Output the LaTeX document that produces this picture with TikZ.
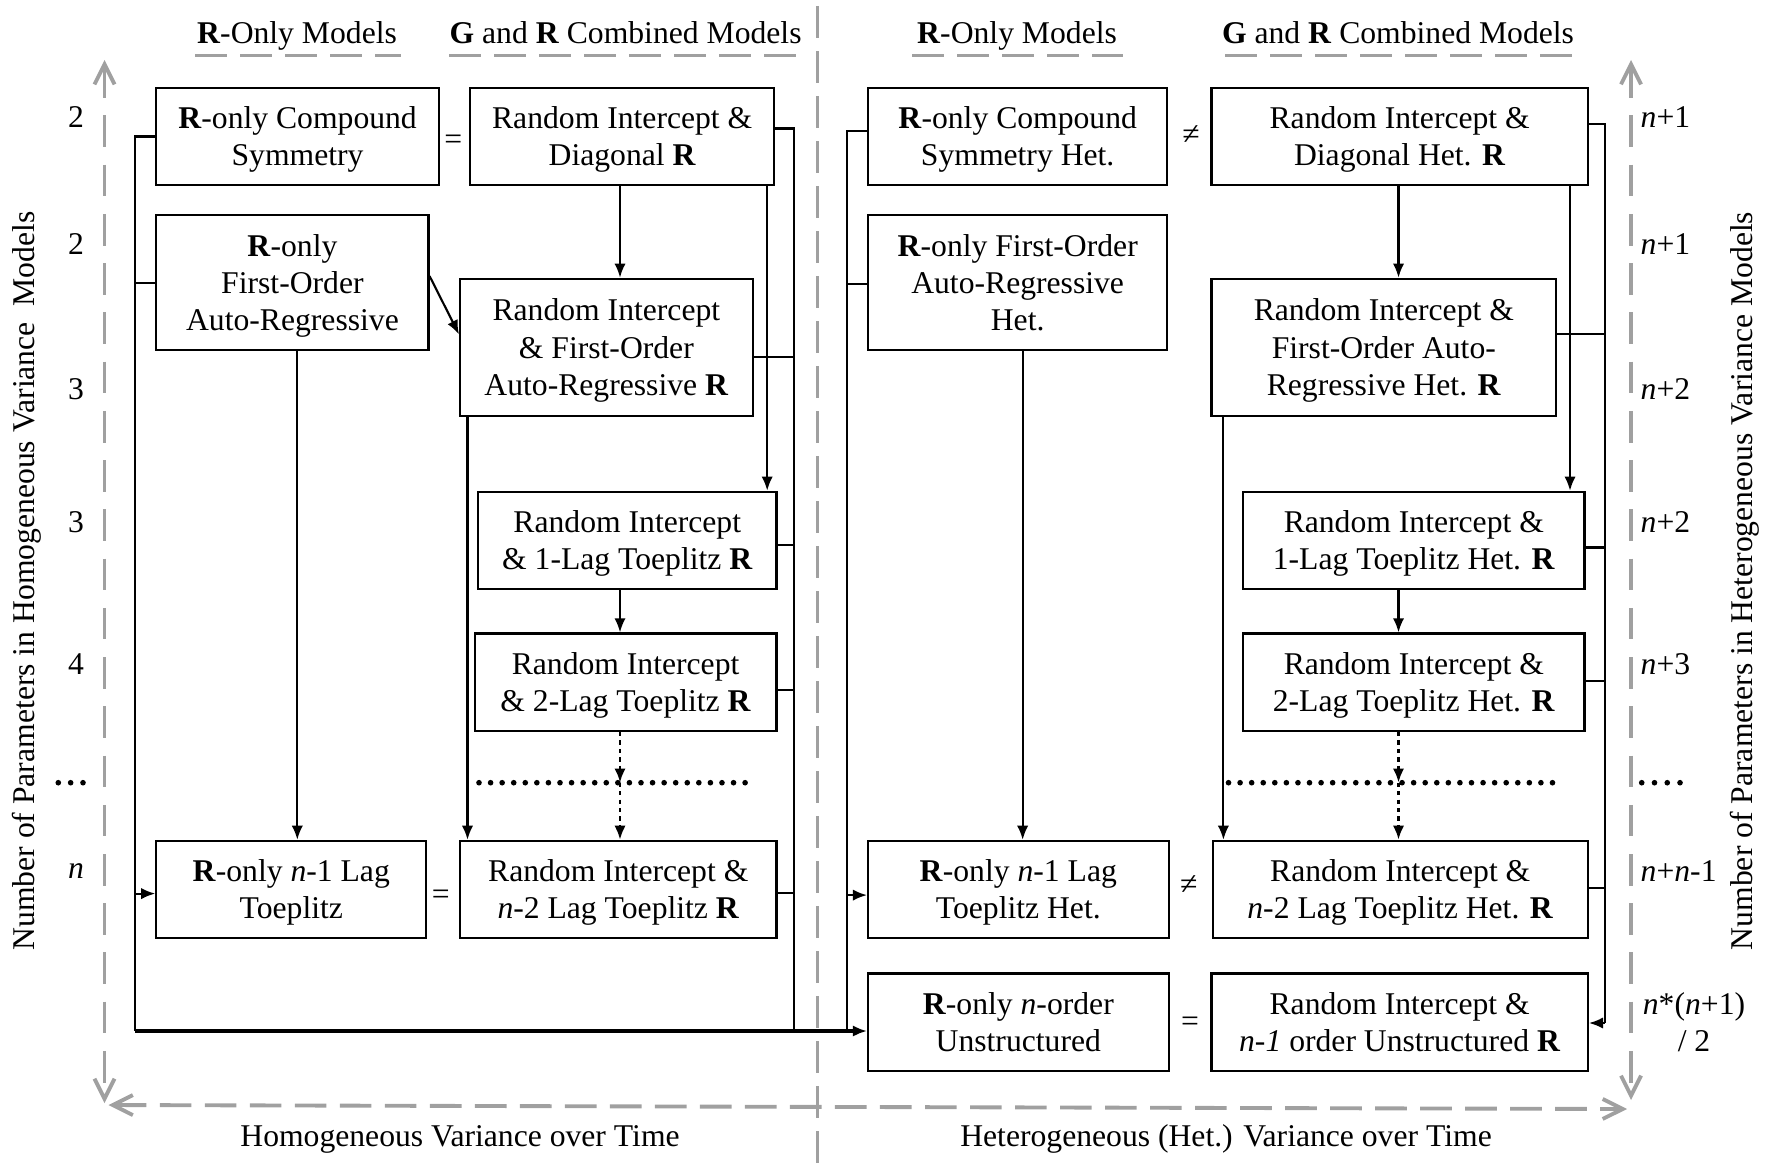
\documentclass[tikz,border=0pt]{standalone}
\usepackage{fontspec}
\setmainfont{Liberation Serif}
\usetikzlibrary{arrows.meta,calc}
\definecolor{axg}{RGB}{160,160,160}
\begin{document}
\begin{tikzpicture}[x=0.01cm,y=-0.01cm,
  font=\fontsize{9}{10.6}\selectfont,
  box/.style={draw, line width=0.6pt, align=center, inner sep=0pt, anchor=north west, text height=16.6pt, text depth=0pt},
  boxthree/.style={box, text height=27.4pt},
  conn/.style={line width=0.6pt},
  arr/.style={line width=0.6pt, -{Latex[length=4pt,width=3.2pt]}},
  darr/.style={line width=0.8pt, dash pattern=on 1.2pt off 1.2pt, -{Latex[length=4pt,width=3.2pt]}},
  dotline/.style={line width=1.6pt, line cap=round, dash pattern=on 0pt off 3.29pt},
  axis/.style={axg, line width=1.1pt, dash pattern=on 9pt off 3.8pt},
  vaxis/.style={axg, line width=1.1pt, dash pattern=on 9pt off 5pt},
  barbs/.style={{Straight Barb[length=5.7pt,width=5.7pt]}-{Straight Barb[length=5.7pt,width=5.7pt]}},
  uline/.style={axg, line width=1.1pt, dash pattern=on 9pt off 3.8pt},
  divider/.style={axg, line width=0.8pt, dash pattern=on 9.1pt off 3.7pt},
  lbl/.style={inner sep=0pt}]
\useasboundingbox (0,0) rectangle (1777,1173);

% headers
\node[lbl, anchor=base] (h1) at (297,43.5) {\textbf{R}-Only Models};
\node[lbl, anchor=base] (h2) at (625.6,43.5) {\textbf{G} and \textbf{R} Combined Models};
\node[lbl, anchor=base] (h3) at (1017,43.5) {\textbf{R}-Only Models};
\node[lbl, anchor=base] (h4) at (1398,43.5) {\textbf{G} and \textbf{R} Combined Models};
\draw[uline] (195,55.5) -- (401,55.5);
\draw[uline] (449,55.5) -- (802,55.5);
\draw[uline] (912,55.5) -- (1123,55.5);
\draw[uline] (1225,55.5) -- (1579,55.5);

% divider and axes
\draw[divider] (817.5,6) -- (817.5,1173);
\draw[vaxis, barbs] (104.5,60) -- (104.5,1103);
\draw[vaxis, barbs] (1631,60) -- (1631,1100);
\draw[axis, barbs] (108.5,1105) -- (1627,1109);

% axis labels
\node[lbl, rotate=90] (yl) at (27,581) {Number of Parameters in Homogeneous Variance~~Models};
\node[lbl, rotate=90] (yr) at (1745,581) {Number of Parameters in Heterogeneous Variance Models};
\node[lbl, anchor=base] (xl) at (460,1146) {Homogeneous Variance over Time};
\node[lbl, anchor=base] (xr) at (1226,1146) {Heterogeneous (Het.) Variance over Time};

% left numbers
\node[lbl] (n1) at (76,116.7) {2};
\node[lbl] (n2) at (76,243.7) {2};
\node[lbl] (n3) at (76,388.7) {3};
\node[lbl] (n4) at (76,522.5) {3};
\node[lbl] (n5) at (76,664.1) {4};
\draw[dotline, dash pattern=on 0pt off 3.51pt] (58.3,782.7) -- (83,782.7);
\node[lbl] (n7) at (76,871.5) {\textit{n}};
% right numbers
\node[lbl, anchor=west] (m1) at (1640,116.7) {\textit{n}+1};
\node[lbl, anchor=west] (m2) at (1640,243.7) {\textit{n}+1};
\node[lbl, anchor=west] (m3) at (1640,388.7) {\textit{n}+2};
\node[lbl, anchor=west] (m4) at (1640,522.5) {\textit{n}+2};
\node[lbl, anchor=west] (m5) at (1640,664.1) {\textit{n}+3};
\draw[dotline, dash pattern=on 0pt off 3.63pt] (1641.7,782.7) -- (1680,782.7);
\node[lbl, anchor=west] (m7) at (1640,871.5) {\textit{n}+\textit{n}-1};
\node[lbl, align=center] (m8) at (1694,1022) {\textit{n}*(\textit{n}+1)\\/ 2};

% left panel boxes
\node[box, minimum width=2.822cm, minimum height=0.963cm] (B1) at (155.3,87.3) {\textbf{R}-only Compound\\Symmetry};
\node[box, minimum width=3.037cm, minimum height=0.963cm] (B2) at (469.2,87.3) {Random Intercept \&\\Diagonal \textbf{R}};
\node[boxthree, minimum width=2.72cm, minimum height=1.349cm] (B3) at (155.3,214.2) {\textbf{R}-only\\First-Order\\Auto-Regressive};
\node[boxthree, minimum width=2.924cm, minimum height=1.371cm] (B4) at (459,277.7) {Random Intercept\\\& First-Order\\Auto-Regressive \textbf{R}};
\node[box, minimum width=2.981cm, minimum height=0.975cm] (B5) at (477.1,490.7) {Random Intercept\\\& 1-Lag Toeplitz \textbf{R}};
\node[box, minimum width=3.015cm, minimum height=0.974cm] (B6) at (473.7,632.4) {Random Intercept\\\& 2-Lag Toeplitz \textbf{R}};
\node[box, minimum width=2.697cm, minimum height=0.974cm] (B7) at (155.3,839.8) {\textbf{R}-only \textit{n}-1 Lag\\Toeplitz};
\node[box, minimum width=3.162cm, minimum height=0.974cm] (B8) at (459,839.8) {Random Intercept \&\\\textit{n}-2 Lag Toeplitz \textbf{R}};

% right panel boxes
\node[box, minimum width=2.99cm, minimum height=0.963cm] (C1) at (867,87.3) {\textbf{R}-only Compound\\Symmetry Het.};
\node[box, minimum width=3.762cm, minimum height=0.963cm] (C2) at (1210.4,87.3) {Random Intercept \&\\Diagonal Het. \textbf{R}};
\node[boxthree, minimum width=2.99cm, minimum height=1.349cm] (C3) at (867,214.2) {\textbf{R}-only First-Order\\Auto-Regressive\\Het.};
\node[boxthree, minimum width=3.445cm, minimum height=1.371cm] (C4) at (1210.4,277.7) {Random Intercept \&\\First-Order Auto-\\Regressive Het. \textbf{R}};
\node[box, minimum width=3.411cm, minimum height=0.975cm] (C5) at (1242.1,490.7) {Random Intercept \&\\1-Lag Toeplitz Het. \textbf{R}};
\node[box, minimum width=3.411cm, minimum height=0.974cm] (C6) at (1242.1,632.4) {Random Intercept \&\\2-Lag Toeplitz Het. \textbf{R}};
\node[box, minimum width=3.003cm, minimum height=0.974cm] (C7) at (867,839.8) {\textbf{R}-only \textit{n}-1 Lag\\Toeplitz Het.};
\node[box, minimum width=3.751cm, minimum height=0.974cm] (C8) at (1211.5,839.8) {Random Intercept \&\\\textit{n}-2 Lag Toeplitz Het. \textbf{R}};
\node[box, minimum width=3.003cm, minimum height=0.974cm] (C9) at (867,972.4) {\textbf{R}-only \textit{n}-order\\Unstructured};
\node[box, minimum width=3.762cm, minimum height=0.974cm] (C10) at (1210.4,972.4) {Random Intercept \&\\\textit{n-1} order Unstructured \textbf{R}};

% relation signs
\node[lbl] (e1) at (453.3,142.3) {=};
\node[lbl] (e2) at (440.9,897) {=};
\node[lbl] (e3) at (1191,134.7) {≠};
\node[lbl] (e4) at (1188.8,885) {≠};
\node[lbl] (e5) at (1190,1024) {=};

% ---- left panel connectors
\coordinate (LB) at (135,1031);
\coordinate (RB) at (794,1031);
\coordinate (colL) at (620,0);
\coordinate (DL) at (620,782.7);
\draw[conn] (B1.west) -- (B1.west -| LB) -- (LB);
\draw[arr, line width=0.9pt] (LB) -- (LB -| C9.west);
\draw[conn] (B3.west) -- (B3.west -| LB);
\draw[arr] ($(B7.west -| LB)+(0,4)$) -- ($(B7.west)+(0,4)$);
\draw[conn] ($(B2.east)+(0,-8)$) coordinate (t) -- (t -| RB) -- (RB);
\draw[conn] ($(B4.east)+(0,10)$) coordinate (t) -- (t -| RB);
\draw[conn] ($(B5.east)+(0,4.5)$) coordinate (t) -- (t -| RB);
\draw[conn] ($(B6.east)+(0,8)$) coordinate (t) -- (t -| RB);
\draw[conn] ($(B8.east)+(0,3.5)$) coordinate (t) -- (t -| RB);
\draw[arr] (B2.south -| colL) -- (B4.north -| colL);
\draw[arr] ($(B2.south east)+(-8,0)$) coordinate (t) -- (t |- B5.north);
\draw[arr] ($(B3.east)+(0,-6.7)$) -- ($(B4.west)+(0,-13)$);
\draw[arr] ($(B3.south west)+(142,0)$) coordinate (t) -- (t |- B7.north);
\draw[arr] ($(B4.south west)+(8.5,0)$) coordinate (t) -- (t |- B8.north);
\draw[arr] (B5.south -| colL) -- (B6.north -| colL);
\draw[darr] (B6.south -| DL) -- (DL);
\draw[darr] (DL) -- (B8.north -| DL);
\draw[dotline] (479,782.7) -- (755,782.7);

% ---- right panel connectors
\coordinate (LB2) at (847,1031);
\coordinate (RB2) at (1604.7,1023);
\coordinate (colR) at (1398.5,0);
\coordinate (colR2) at (1570,0);
\coordinate (DR) at (1398.5,782.7);
\draw[conn] ($(C1.west)+(0,-5.5)$) coordinate (t) -- (t -| LB2) -- (LB2);
\draw[conn] ($(C3.west)+(0,1.3)$) coordinate (t) -- (t -| LB2);
\draw[arr] ($(C7.west -| LB2)+(0,5.5)$) -- ($(C7.west)+(0,5.5)$);
\draw[conn] ($(C2.east)+(0,-12.5)$) coordinate (t) -- (t -| RB2) -- (RB2);
\draw[arr] (RB2) -- (RB2 -| C10.east);
\draw[conn] ($(C4.east)+(0,-13)$) coordinate (t) -- (t -| RB2);
\draw[conn] ($(C5.east)+(0,7)$) coordinate (t) -- (t -| RB2);
\draw[conn] ($(C6.east)+(0,-1)$) coordinate (t) -- (t -| RB2);
\draw[conn] ($(C8.east)+(0,-1.8)$) coordinate (t) -- (t -| RB2);
\draw[arr] (C2.south -| colR) -- (C4.north -| colR);
\draw[arr] (C2.south -| colR2) -- (C5.north -| colR2);
\draw[arr] ($(C3.south)+(5,0)$) coordinate (t) -- (t |- C7.north);
\draw[arr] ($(C4.south west)+(13,0)$) coordinate (t) -- (t |- C8.north);
\draw[arr] (C5.south -| colR) -- (C6.north -| colR);
\draw[darr] (C6.south -| DR) -- (DR);
\draw[darr] (DR) -- (C8.north -| DR);
\draw[dotline] (1228.5,782.7) -- (1553.7,782.7);
\end{tikzpicture}
\end{document}
